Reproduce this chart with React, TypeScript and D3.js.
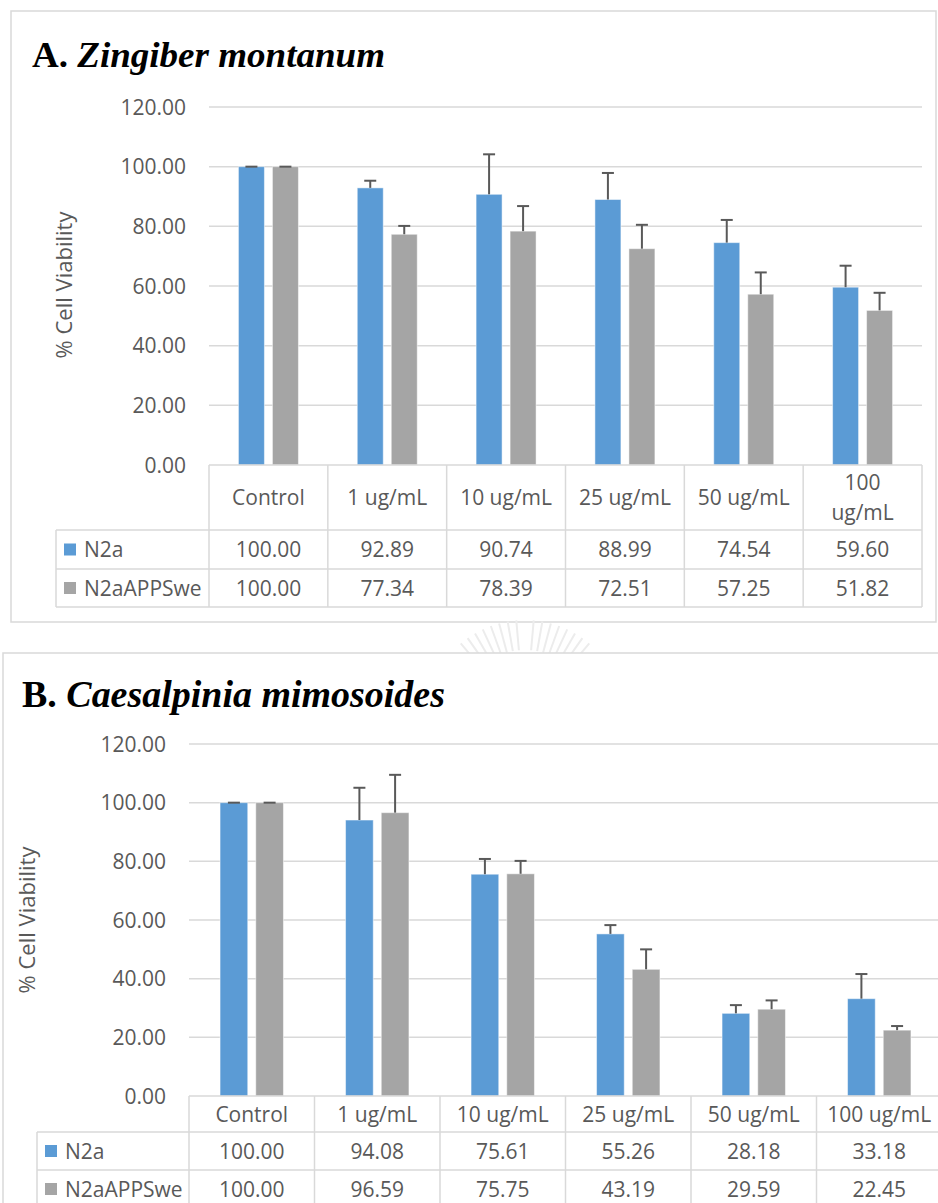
import React from "react";
import * as d3 from "d3";

const categories = ["Control", "1 ug/mL", "10 ug/mL", "25 ug/mL", "50 ug/mL", "100 ug/mL"];
const seriesNames = ["N2a", "N2aAPPSwe"];
const yTicks = [0, 20, 40, 60, 80, 100, 120];

// Panel A: Zingiber montanum
const n2aA = [100.0, 92.89, 90.74, 88.99, 74.54, 59.6];
const appA = [100.0, 77.34, 78.39, 72.51, 57.25, 51.82];
const n2aErrA = [0, 2.4, 13.4, 8.9, 7.6, 7.2];
const appErrA = [0, 2.8, 8.4, 8.0, 7.3, 5.9];

// Panel B: Caesalpinia mimosoides
const n2aB = [100.0, 94.08, 75.61, 55.26, 28.18, 33.18];
const appB = [100.0, 96.59, 75.75, 43.19, 29.59, 22.45];
const n2aErrB = [0, 11.0, 5.2, 3.0, 2.8, 8.4];
const appErrB = [0, 12.9, 4.4, 6.8, 3.0, 1.4];

const COLORS = ["#5B9BD5", "#A5A5A5"];
const GRID = "#d9d9d9";
const TXT = "#595959";
const FONT = "'Open Sans', 'Noto Sans', sans-serif";

type PanelProps = {
  titleLetter: string;
  titleSpecies: string;
  titleX: number;
  titleY: number;
  titleSize: number;
  titleLen: number;
  values: number[][];
  errors: number[][];
  plotLeft: number;
  plotRight: number;
  yBottom: number;
  yTop: number;
  tickRight: number;
  legendLeft: number;
  rowBottoms: number[];
  keyX: number;
  keyTextX: number;
  yTitleX: number;
  yTitleY: number;
  groupWidth: number;
  barGap: number;
  wrapHeader: boolean[];
};

function Panel(p: PanelProps) {
  const x = d3.scaleBand<string>().domain(categories).range([p.plotLeft, p.plotRight]).padding(0);
  const y = d3.scaleLinear().domain([0, 120]).range([p.yBottom, p.yTop]);
  const bw = (p.groupWidth - p.barGap) / 2;
  const sub = d3
    .scaleBand<string>()
    .domain(seriesNames)
    .range([0, p.groupWidth])
    .paddingInner(p.barGap / (bw + p.barGap));
  const fmt = d3.format(".2f");
  const [hb, r1, r2] = p.rowBottoms;
  const rowMid = [(hb + r1) / 2, (r1 + r2) / 2];

  return (
    <g>
      <text x={p.titleX} y={p.titleY} fontFamily="'Liberation Serif', 'Times New Roman', serif" fontSize={p.titleSize} fontWeight="bold" fill="#000" textLength={p.titleLen} lengthAdjust="spacingAndGlyphs">
        {p.titleLetter + " "}
        <tspan fontStyle="italic">{p.titleSpecies}</tspan>
      </text>
      {yTicks.filter((t) => t > 0).map((t) => (
        <line key={t} x1={p.plotLeft} x2={p.plotRight} y1={y(t)} y2={y(t)} stroke={GRID} strokeWidth={1.5} />
      ))}
      {yTicks.map((t) => (
        <text key={"l" + t} x={p.tickRight} y={y(t)} dy="0.36em" textAnchor="end" fontFamily={FONT} fontSize={21} fill={TXT}>
          {fmt(t)}
        </text>
      ))}
      <text transform={`translate(${p.yTitleX},${p.yTitleY}) rotate(-90)`} textAnchor="middle" dy="0.36em" fontFamily={FONT} fontSize={22} fill={TXT}>
        % Cell Viability
      </text>
      {categories.map((c, i) => {
        const g0 = (x(c) as number) + x.bandwidth() / 2 - p.groupWidth / 2;
        return (
          <g key={c}>
            {seriesNames.map((s, si) => {
              const v = p.values[si][i];
              const e = p.errors[si][i];
              const bx = g0 + (sub(s) as number);
              const cx = bx + sub.bandwidth() / 2;
              return (
                <g key={s}>
                  <rect x={bx} y={y(v)} width={sub.bandwidth()} height={y(0) - y(v)} fill={COLORS[si]} stroke="#ffffff" strokeOpacity={0.5} strokeWidth={1} />
                  <line x1={cx} x2={cx} y1={y(v)} y2={y(v + e)} stroke="#595959" strokeWidth={2} />
                  <line x1={cx - 6} x2={cx + 6} y1={y(v + e)} y2={y(v + e)} stroke="#595959" strokeWidth={2} />
                </g>
              );
            })}
          </g>
        );
      })}
      <g stroke={GRID} strokeWidth={1.5} fill="none">
        <line x1={p.plotLeft} x2={p.plotRight} y1={p.yBottom} y2={p.yBottom} />
        <line x1={p.legendLeft} x2={p.plotRight} y1={hb} y2={hb} />
        <line x1={p.legendLeft} x2={p.plotRight} y1={r1} y2={r1} />
        <line x1={p.legendLeft} x2={p.plotRight} y1={r2} y2={r2} />
        <line x1={p.legendLeft} x2={p.legendLeft} y1={hb} y2={r2} />
        {categories.map((c) => (
          <line key={c} x1={x(c)} x2={x(c)} y1={p.yBottom} y2={r2} />
        ))}
        <line x1={p.plotRight} x2={p.plotRight} y1={p.yBottom} y2={r2} />
      </g>
      {categories.map((c, i) => {
        const cx = (x(c) as number) + x.bandwidth() / 2;
        const cy = (p.yBottom + hb) / 2;
        if (p.wrapHeader[i]) {
          const parts = c.split(" ");
          return (
            <text key={c} x={cx} y={cy} textAnchor="middle" fontFamily={FONT} fontSize={21} fill={TXT}>
              <tspan x={cx} dy="-0.38em">{parts[0]}</tspan>
              <tspan x={cx} dy="1.45em">{parts.slice(1).join(" ")}</tspan>
            </text>
          );
        }
        return (
          <text key={c} x={cx} y={cy} dy="0.36em" textAnchor="middle" fontFamily={FONT} fontSize={21} fill={TXT}>
            {c}
          </text>
        );
      })}
      {seriesNames.map((s, si) => (
        <g key={s}>
          <rect x={p.keyX} y={rowMid[si] - 6} width={12} height={12} fill={COLORS[si]} />
          <text x={p.keyTextX} y={rowMid[si]} dy="0.36em" fontFamily={FONT} fontSize={21} fill={TXT}>
            {s}
          </text>
          {categories.map((c, i) => (
            <text key={c} x={(x(c) as number) + x.bandwidth() / 2} y={rowMid[si]} dy="0.36em" textAnchor="middle" fontFamily={FONT} fontSize={21} fill={TXT}>
              {fmt(p.values[si][i])}
            </text>
          ))}
        </g>
      ))}
    </g>
  );
}

function Watermark() {
  const cx = 525;
  const cy = 720;
  const angles = d3.range(-40, 41, 5);
  return (
    <g stroke="#ececec" strokeWidth={2} fill="none">
      {angles.filter((a) => Math.abs(a) > 4).map((a) => {
        const r = (a * Math.PI) / 180;
        return (
          <line key={a} x1={cx + Math.sin(r) * 70} y1={cy - Math.cos(r) * 70} x2={cx + Math.sin(r) * 100} y2={cy - Math.cos(r) * 100} />
        );
      })}
    </g>
  );
}

export default function App() {
  return (
    <div style={{ position: "absolute", left: 0, top: 0 }}>
      <svg width={938} height={1203} viewBox="0 0 938 1203" style={{ display: "block", background: "#fff" }}>
        <defs>
          <clipPath id="pageclip">
            <rect x={0} y={0} width={938} height={1203} />
          </clipPath>
        </defs>
        <rect x={0} y={0} width={938} height={1203} fill="#fff" />
        <g clipPath="url(#pageclip)">
          <rect x={11} y={11} width={925} height={611} fill="#fff" stroke={GRID} strokeWidth={1.5} />
          <Watermark />
          <rect x={3} y={653} width={945} height={600} fill="#fff" stroke={GRID} strokeWidth={1.5} />
          <Panel
            titleLetter="A."
            titleSpecies="Zingiber montanum"
            titleX={32}
            titleY={67}
            titleSize={35}
            titleLen={353}
            values={[n2aA, appA]}
            errors={[n2aErrA, appErrA]}
            plotLeft={209}
            plotRight={922}
            yBottom={465}
            yTop={107}
            tickRight={186}
            legendLeft={56}
            rowBottoms={[530, 569, 607]}
            keyX={64}
            keyTextX={84}
            yTitleX={64}
            yTitleY={285}
            groupWidth={60}
            barGap={8}
            wrapHeader={[false, false, false, false, false, true]}
          />
          <Panel
            titleLetter="B."
            titleSpecies="Caesalpinia mimosoides"
            titleX={22}
            titleY={707}
            titleSize={38}
            titleLen={423}
            values={[n2aB, appB]}
            errors={[n2aErrB, appErrB]}
            plotLeft={189}
            plotRight={942}
            yBottom={1096}
            yTop={744}
            tickRight={166}
            legendLeft={37}
            rowBottoms={[1132, 1170, 1208]}
            keyX={45}
            keyTextX={65}
            yTitleX={27}
            yTitleY={920}
            groupWidth={63.4}
            barGap={8}
            wrapHeader={[false, false, false, false, false, false]}
          />
        </g>
      </svg>
    </div>
  );
}
